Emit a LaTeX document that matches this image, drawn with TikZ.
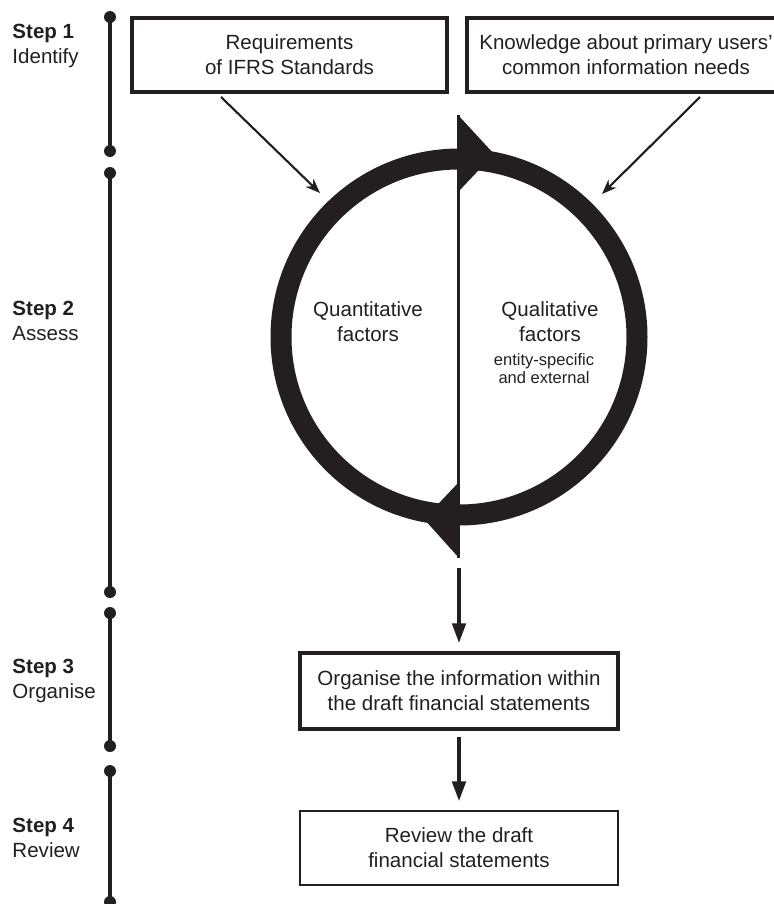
\documentclass[tikz,border=0pt]{standalone}
\usepackage{fontspec}
\setmainfont{Liberation Sans}
\usetikzlibrary{positioning,arrows.meta}
\definecolor{ink}{HTML}{231F20}
\tikzset{every picture/.style={line width=0.75pt}}
\tikzset{
  box/.style={draw=ink,line width=3pt,minimum width=236pt,minimum height=55.5pt,
    align=center,inner sep=0pt,text=ink,font=\fontsize{15.4}{18.75}\selectfont},
  steplabel/.style={anchor=west,align=left,inner sep=0pt,text=ink,
    font=\fontsize{15.4}{18.75}\selectfont},
  stepbar/.style={draw=ink,line width=2.4pt},
  feed/.style={draw=ink,line width=1.6pt,-{Stealth[length=11pt,width=8.5pt]}},
  flow/.style={draw=ink,line width=3pt,-{Triangle[length=15pt,width=10pt]}},
  ring/.style={draw=ink,line width=15.75pt}
}

\begin{document}
\begin{tikzpicture}[x=0.75pt,y=-0.75pt]
\useasboundingbox (0,0) rectangle (774,904);
%
\node[steplabel] (st1) at (12,45.5) {\textbf{Step 1}\\Identify};
\node[steplabel] (st2) at (12,320.5) {\textbf{Step 2}\\Assess};
\node[steplabel] (st3) at (12,680.5) {\textbf{Step 3}\\Organise};
\node[steplabel] (st4) at (12,837.5) {\textbf{Step 4}\\Review};
\foreach \t/\b in {17/151,173/592,613/746,771/902} {
  \draw[stepbar] (110,\t) -- (110,\b);
  \fill[ink] (110,\t) circle (6) (110,\b) circle (6);
}
%
\node[box] (req) at (289.5,55) {Requirements\\of IFRS Standards};
\node[box,minimum width=238.5pt] (know) at (626,54.5) {Knowledge about primary users'\\common information needs};
\node[box,line width=2.6pt,minimum width=238.5pt,minimum height=57pt] (org) at (459,691) {Organise the information within\\the draft financial statements};
\node[box,line width=1.5pt,minimum width=238.5pt] (rev) at (459,848) {Review the draft\\financial statements};
%
\coordinate (c) at (459,337);
\draw[ring] (c) circle (178);
\fill[ink] (458,115) -- (494,154) -- (458,192) -- cycle;
\fill[ink] (459,482) -- (424,519) -- (459,558) -- cycle;
\draw[ink,line width=2.25pt] (458,115) -- (458,558);
\node[text=ink,align=center,font=\fontsize{15.4}{18.75}\selectfont] (quan) at (368,322) {Quantitative\\factors};
\node[text=ink,align=center,font=\fontsize{15.4}{18.75}\selectfont] (qual) at (550,322) {Qualitative\\factors};
\node[text=ink,align=center,font=\fontsize{12.4}{13.5}\selectfont,below=1pt of qual,xshift=-4.5pt] (ext) {entity-specific\\and external};
%
\coordinate (outL) at (221,97);
\coordinate (inL) at (320,193);
\coordinate (outR) at (700,97);
\coordinate (inR) at (602,194);
\draw[feed] (outL) -- (inL);
\draw[feed] (outR) -- (inR);
\coordinate (loop) at (459,568);
\draw[flow] (loop) -- ([yshift=6pt]org.north);
\draw[flow] ([yshift=-4.5pt]org.south) -- ([yshift=6.5pt]rev.north);
\end{tikzpicture}
\end{document}
